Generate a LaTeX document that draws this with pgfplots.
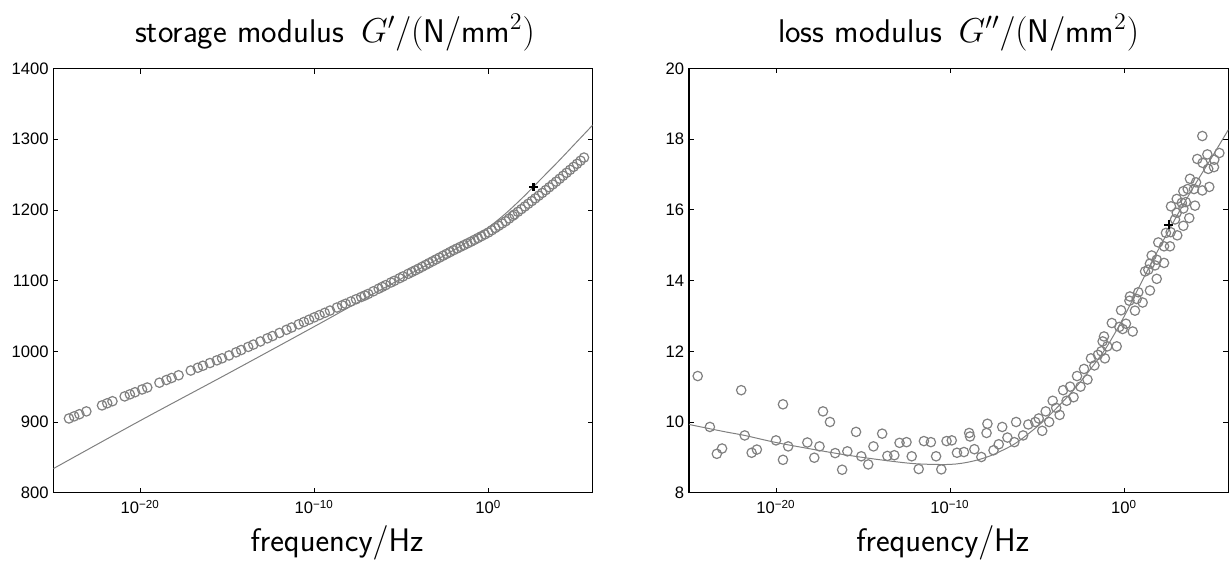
\documentclass[border=0pt]{standalone}
\usepackage{fontspec}
\usepackage{pgfplots}
\pgfplotsset{compat=1.18}
\newfontfamily\helv{Liberation Sans}
\definecolor{mgray}{RGB}{128,128,128}
\pgfplotsset{myax/.style={
  scale only axis, width=269.7pt, height=212.1pt, xmin=-25, xmax=6,
  xtick={-20,-10,0},
  xticklabels={10\textsuperscript{−20},10\textsuperscript{−10},10\textsuperscript{0}},
  tick align=inside, major tick length=2.5pt, minor tick num=0,
  axis line style={line width=0.65pt},
  every tick/.style={line width=0.4pt, black},
  tick label style={font=\helv\fontsize{8.3}{10}\selectfont, inner sep=0pt},
  xticklabel style={yshift=-3.5pt},
  yticklabel style={xshift=-2.2pt},
  title style={font=\fontsize{16.4}{19}\selectfont, at={(axis description cs:0.5,1)}, anchor=base, yshift=7pt},
  xlabel style={font=\sffamily\fontsize{16.3}{19}\selectfont, at={(axis description cs:0.5,0)}, anchor=base, yshift=-29.15pt},
  xlabel={frequency$/$Hz},
  /pgf/number format/assume math mode=true,
}}
\begin{document}
\begin{tikzpicture}
\path[use as bounding box] (-26.65pt,-34.15pt) rectangle (588.35pt,246.35pt);
\begin{axis}[myax, at={(0pt,0pt)}, anchor=south west,
  ymin=800, ymax=1400, ytick={800,900,1000,1100,1200,1300,1400},
  yticklabels={800,900,1000,1100,1200,1300,1400},
  title style={xshift=6pt}, xlabel style={xshift=7pt},
  title={\textsf{storage modulus}\enspace $G'/(\mathsf{N}/\mathsf{mm}^2)$}]
\addplot[mgray, line width=0.5pt, smooth] coordinates {
(-25,834) (-20,902) (-15,968) (-10,1035) (-7,1076) (-4,1116) (-3,1129) (-2,1143) (-1,1158)
(0,1175) (1,1195) (2,1218) (3,1243) (4,1268) (5,1294) (6,1320)};
\addplot[only marks, mark=o, mark size=2.35pt, mgray, mark options={line width=0.6pt}] coordinates {
(-24.1,905) (-23.8,908) (-23.5,911) (-23.1,915) (-22.2,923.5) (-21.9,926.5) (-21.6,929.4)
(-20.9,936.2) (-20.6,939.1) (-20.3,942.1) (-19.9,946) (-19.6,948.8) (-18.9,955.6) (-18.5,959.4)
(-18.2,962.3) (-17.8,966.1) (-17.1,972.8) (-16.7,976.7) (-16.4,979.6) (-16.0,983.4) (-15.6,987.2)
(-15.3,990.1) (-14.9,994.1) (-14.5,998.5) (-14.2,1001.8) (-13.8,1006.2) (-13.5,1009.5) (-13.1,1013.9)
(-12.7,1018.3) (-12.4,1021.6) (-12.0,1026) (-11.6,1030.4) (-11.3,1033.7) (-10.9,1038.1) (-10.6,1041.4)
(-10.3,1044.7) (-10.0,1048) (-9.7,1051.2) (-9.4,1054.4) (-9.1,1057.6) (-8.7,1061.9) (-8.4,1065.1)
(-8.2,1067.2) (-7.9,1070.4) (-7.6,1073.6) (-7.3,1076.8) (-7.1,1078.9) (-6.9,1081.2) (-6.6,1084.9)
(-6.3,1088.6) (-6.1,1091.1) (-5.9,1093.6) (-5.6,1097.3) (-5.4,1099.7) (-5.1,1103.4) (-4.9,1105.9)
(-4.6,1109.6) (-4.4,1112.1) (-4.2,1114.5) (-4.0,1117) (-3.8,1119.6) (-3.6,1122.2) (-3.4,1124.8)
(-3.2,1127.4) (-3.0,1130) (-2.8,1132.6) (-2.6,1135.2) (-2.4,1137.8) (-2.2,1140.4) (-2.0,1143) (-1.8,1145.4)
(-1.6,1147.8) (-1.4,1150.2) (-1.2,1152.6) (-1.0,1155) (-0.8,1157.6) (-0.6,1160.2) (-0.4,1162.8) (-0.2,1165.4)
(0.0,1168) (0.2,1171.2) (0.4,1174.4) (0.6,1177.6) (0.8,1180.8) (1.0,1184) (1.2,1187.8) (1.4,1191.6) (1.5,1193.5)
(1.7,1197.3) (1.9,1201.1) (2.1,1204.9) (2.3,1208.7) (2.5,1212.5) (2.7,1216.3) (2.9,1220.1) (3.1,1224)
(3.3,1228) (3.5,1232) (3.7,1236) (3.9,1240) (4.1,1244.1) (4.3,1248.3) (4.5,1252.5) (4.7,1256.7)
(4.9,1260.9) (5.1,1265.2) (5.3,1269.6) (5.5,1274)};
\addplot[only marks, mark=+, mark size=2.2pt, black, mark options={line width=1.1pt}] coordinates {(2.6,1232.5)};
\end{axis}
\begin{axis}[myax, at={(317.85pt,0pt)}, anchor=south west,
  ymin=8, ymax=20, ytick={8,10,12,14,16,18,20},
  yticklabels={8,10,12,14,16,18,20},
  xlabel style={xshift=-8pt},
  title={\textsf{loss modulus}\enspace $G''/(\mathsf{N}/\mathsf{mm}^2)$}]
\addplot[mgray, line width=0.5pt, smooth] coordinates {
(-25,9.93) (-23,9.73) (-21.8,9.62) (-20,9.42) (-17.8,9.22) (-16,9.07) (-14,8.93) (-12,8.82) (-10,8.8)
(-8.8,8.88) (-7.7,9.04) (-6.5,9.32) (-5.8,9.55) (-4.8,9.95) (-4,10.33) (-3,10.85) (-2,11.45) (-1,12.12)
(0,12.98) (1,13.95) (2,14.9) (3,15.8) (4,16.65) (5,17.45) (6,18.27)};
\addplot[only marks, mark=o, mark size=2.35pt, mgray, mark options={line width=0.6pt}] coordinates {
(-24.5,11.3) (-23.8,9.86) (-23.4,9.10) (-23.1,9.25) (-22.0,10.9) (-21.8,9.62) (-21.4,9.13) (-21.1,9.22)
(-20.0,9.48) (-19.6,10.5) (-19.6,8.93) (-19.3,9.31) (-18.2,9.42) (-17.8,8.99) (-17.5,9.31) (-17.3,10.3)
(-16.9,10.0) (-16.6,9.12) (-16.2,8.65) (-15.9,9.17) (-15.4,9.72) (-15.1,9.03) (-14.7,8.80) (-14.4,9.31)
(-13.9,9.67) (-13.6,9.04) (-13.2,9.06) (-12.9,9.41) (-12.5,9.43) (-12.2,9.03) (-11.8,8.67) (-11.5,9.46)
(-11.1,9.43) (-10.8,9.03) (-10.5,8.66) (-10.2,9.46) (-9.9,9.48) (-9.6,9.13) (-9.2,9.15) (-8.9,9.69)
(-8.85,9.59) (-8.6,9.23) (-8.2,9.01) (-7.9,9.69) (-7.85,9.95) (-7.5,9.20) (-7.2,9.37) (-7.0,9.86)
(-6.7,9.56) (-6.3,9.43) (-6.2,10.00) (-5.8,9.62) (-5.5,9.93) (-5.1,10.00)
(-4.9,10.1) (-4.7,9.75) (-4.5,10.3) (-4.3,10.0) (-4.1,10.6) (-3.9,10.4) (-3.7,10.2) (-3.5,10.9)
(-3.3,10.6) (-3.1,11.0) (-2.9,10.7) (-2.7,11.3) (-2.5,11.0) (-2.3,11.5) (-2.1,11.2) (-1.9,11.8)
(-1.7,11.6) (-1.5,11.9) (-1.3,12.0) (-1.1,11.8)
(4.50,18.09) (4.21,17.44) (4.79,17.57) (5.48,17.61) (4.52,17.33) (5.19,17.42) (4.84,17.16) (5.17,17.21)
(3.79,16.88) (4.14,16.78) (4.02,16.59) (3.66,16.59) (3.41,16.53) (4.50,16.55) (4.90,16.65) (3.03,16.31)
(3.32,16.20) (3.55,16.22) (4.08,16.12) (2.70,16.10) (3.03,15.92) (3.41,16.04) (3.75,15.77) (2.93,15.73)
(2.41,15.35) (2.68,15.37) (3.06,15.28) (3.41,15.55) (2.64,14.97) (2.30,14.97) (1.97,15.08) (1.59,14.71)
(1.88,14.59) (1.49,14.48) (1.78,14.43) (2.30,14.50) (1.21,14.26) (1.40,14.31) (1.88,14.05) (0.82,13.67)
(0.73,13.48) (1.07,13.38) (0.34,13.55) (0.31,13.43) (1.49,13.72) (-0.17,13.16) (0.63,13.15) (-0.70,12.80)
(-0.27,12.69) (0.11,12.78) (0.50,12.56) (-0.08,12.63) (-1.15,12.42) (-1.23,12.28) (-0.42,12.14) (-0.96,12.14)};
\addplot[only marks, mark=+, mark size=2.2pt, black, mark options={line width=1.1pt}] coordinates {(2.57,15.58)};
\end{axis}
\end{tikzpicture}
\end{document}
